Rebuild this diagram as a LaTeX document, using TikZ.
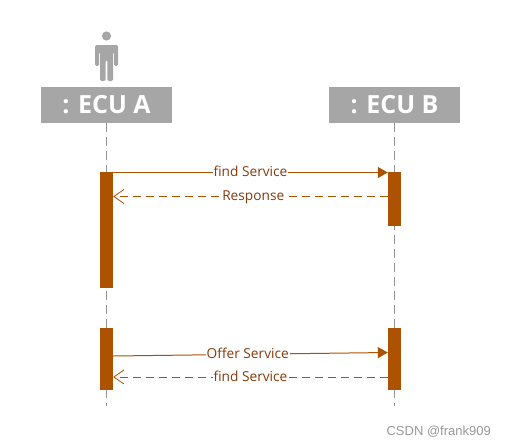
\documentclass[tikz,border=0pt]{standalone}
\usepackage{fontspec}
\setmainfont{Open Sans}
\newfontfamily\wmfont{Liberation Sans}
\usetikzlibrary{arrows.meta}
\definecolor{actgray}{HTML}{A6A6A6}
\definecolor{rust}{HTML}{AD5200}
\definecolor{rusttext}{HTML}{843C0C}
\tikzset{
  x=1pt,y=-1pt,
  headbox/.style={fill=actgray,minimum width=131pt,minimum height=36pt,inner sep=0pt,text=white,font=\fontsize{25}{26}\selectfont\bfseries},
  lifeline/.style={draw=gray!85,line width=0.8pt,dash pattern=on 9pt off 5pt},
  actbar/.style={fill=rust,minimum width=13pt,inner sep=0pt},
  msglabel/.style={fill=white,inner sep=1pt,text=rusttext,text height=10pt,text depth=3pt,yshift=-0.8pt,font=\fontsize{13.7}{14}\selectfont},
  syncmsg/.style={draw=rust,line width=1pt,-{Triangle[length=10pt,width=11pt,fill=rust]}},
  replymsg/.style={draw=rust,line width=0.9pt,dash pattern=on 8pt off 5pt,-{Straight Barb[length=10pt,width=14pt,line width=0.8pt]}},
}
\begin{document}
\begin{tikzpicture}
\useasboundingbox (0,0) rectangle (505,447);
\fill[white] (0,0) rectangle (505,447);
% actor
\fill[actgray] (106.5,36) circle (4.6);
\fill[actgray,rounded corners=1.5pt] (95,45) -- (118,45) -- (118,66) -- (114,66) -- (114,52) -- (113,52) -- (113,81) -- (107.3,81) -- (107.3,60) -- (105.7,60) -- (105.7,81) -- (100,81) -- (100,52) -- (99,52) -- (99,66) -- (95,66) -- cycle;
% heads
\node[headbox] (ecua) at (106.5,105) {: ECU A};
\node[headbox] (ecub) at (394.5,105) {: ECU B};
\coordinate (enda) at (106.5,406);
\coordinate (endb) at (394.5,406);
\draw[lifeline] (ecua.south) -- (enda);
\draw[lifeline] (ecub.south) -- (endb);
% activations
\node[actbar,minimum height=116pt] (a1) at (106.5,230) {};
\node[actbar,minimum height=54pt] (b1) at (394.5,199) {};
\node[actbar,minimum height=62pt] (a2) at (106.5,359) {};
\node[actbar,minimum height=62pt] (b2) at (394.5,359) {};
% messages
\coordinate (m1s) at (a1.east |- 0,172.5);
\coordinate (m1e) at (b1.west |- 0,172.5);
\coordinate (m2s) at (b1.west |- 0,196.5);
\coordinate (m2e) at (a1.east |- 0,196.5);
\coordinate (m3s) at (a2.east |- 0,356);
\coordinate (m3e) at (b2.west |- 0,352.5);
\coordinate (m4s) at (b2.west |- 0,377);
\coordinate (m4e) at (a2.east |- 0,377);
\draw[syncmsg] (m1s) -- node[msglabel,pos=0.5] (l1) {find Service} (m1e);
\draw[replymsg] (m2s) -- node[msglabel,pos=0.49] (l2) {Response} (m2e);
\draw[syncmsg] (m3s) -- node[msglabel,pos=0.49] (l3) {Offer Service} (m3e);
\draw[replymsg] (m4s) -- node[msglabel,pos=0.5] (l4) {find Service} (m4e);
% watermark
\node[text=gray!80,font=\wmfont\fontsize{13}{14}\selectfont,inner sep=0pt,anchor=east] (wm) at (491,431.5) {CSDN @frank909};
\end{tikzpicture}
\end{document}
